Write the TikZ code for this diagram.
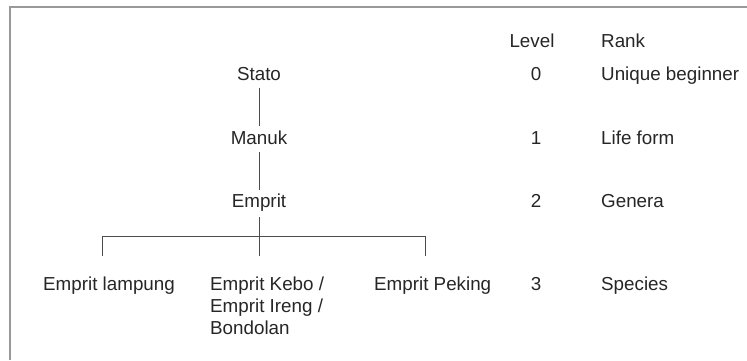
\documentclass[tikz,border=0pt]{standalone}
\usepackage{fontspec}
\setmainfont{Liberation Sans}
\begin{document}
\begin{tikzpicture}[x=1pt,y=-1pt,
  txt/.style={inner sep=0pt, text=black!85, font=\fontsize{18.8}{22}\selectfont},
  tree/.style={txt, anchor=base, text height=13.5pt, text depth=4pt},
  conn/.style={draw=black!70, line width=0.9pt},
  frame/.style={draw=black!40, line width=1.5pt}]
\useasboundingbox (0,0) rectangle (747,360);
\draw[frame] (10,360) -- (10,7) -- (747,7);
% tree
\node[tree] (stato) at (259,80) {Stato};
\node[tree] (manuk) at (259,144) {Manuk};
\node[tree] (emprit) at (259,207) {Emprit};
\coordinate (bl) at (102,236);
\coordinate (bm) at (259,236);
\coordinate (br) at (425,236);
\coordinate (dl) at (102,256);
\coordinate (dm) at (259,256);
\coordinate (dr) at (425,256);
\draw[conn, shorten <=3.5pt, shorten >=4pt] (stato.south) -- (manuk.north);
\draw[conn, shorten <=4pt, shorten >=3.5pt] (manuk.south) -- (emprit.north);
\draw[conn, shorten <=6pt] (emprit.south) -- (dm);
\draw[conn] (dl) -- (bl) -- (br) -- (dr);
\node[txt, anchor=base west] (lampung) at (43,290) {Emprit lampung};
\node[txt, anchor=north west, align=left] (kebo) at (210,276.3) {Emprit Kebo /\\Emprit Ireng /\\Bondolan};
\node[txt, anchor=base west] (peking) at (374,290) {Emprit Peking};
% level / rank
\node[txt, anchor=base] (level) at (532,47) {Level};
\node[txt, anchor=base west] (rank) at (601,47) {Rank};
\node[txt, anchor=base] (l0) at (536,80) {0};
\node[txt, anchor=base] (l1) at (536,144) {1};
\node[txt, anchor=base] (l2) at (536,207) {2};
\node[txt, anchor=base] (l3) at (536,290) {3};
\node[txt, anchor=base west] (r0) at (601,80) {Unique beginner};
\node[txt, anchor=base west] (r1) at (601,144) {Life form};
\node[txt, anchor=base west] (r2) at (601,207) {Genera};
\node[txt, anchor=base west] (r3) at (601,290) {Species};
\end{tikzpicture}
\end{document}
